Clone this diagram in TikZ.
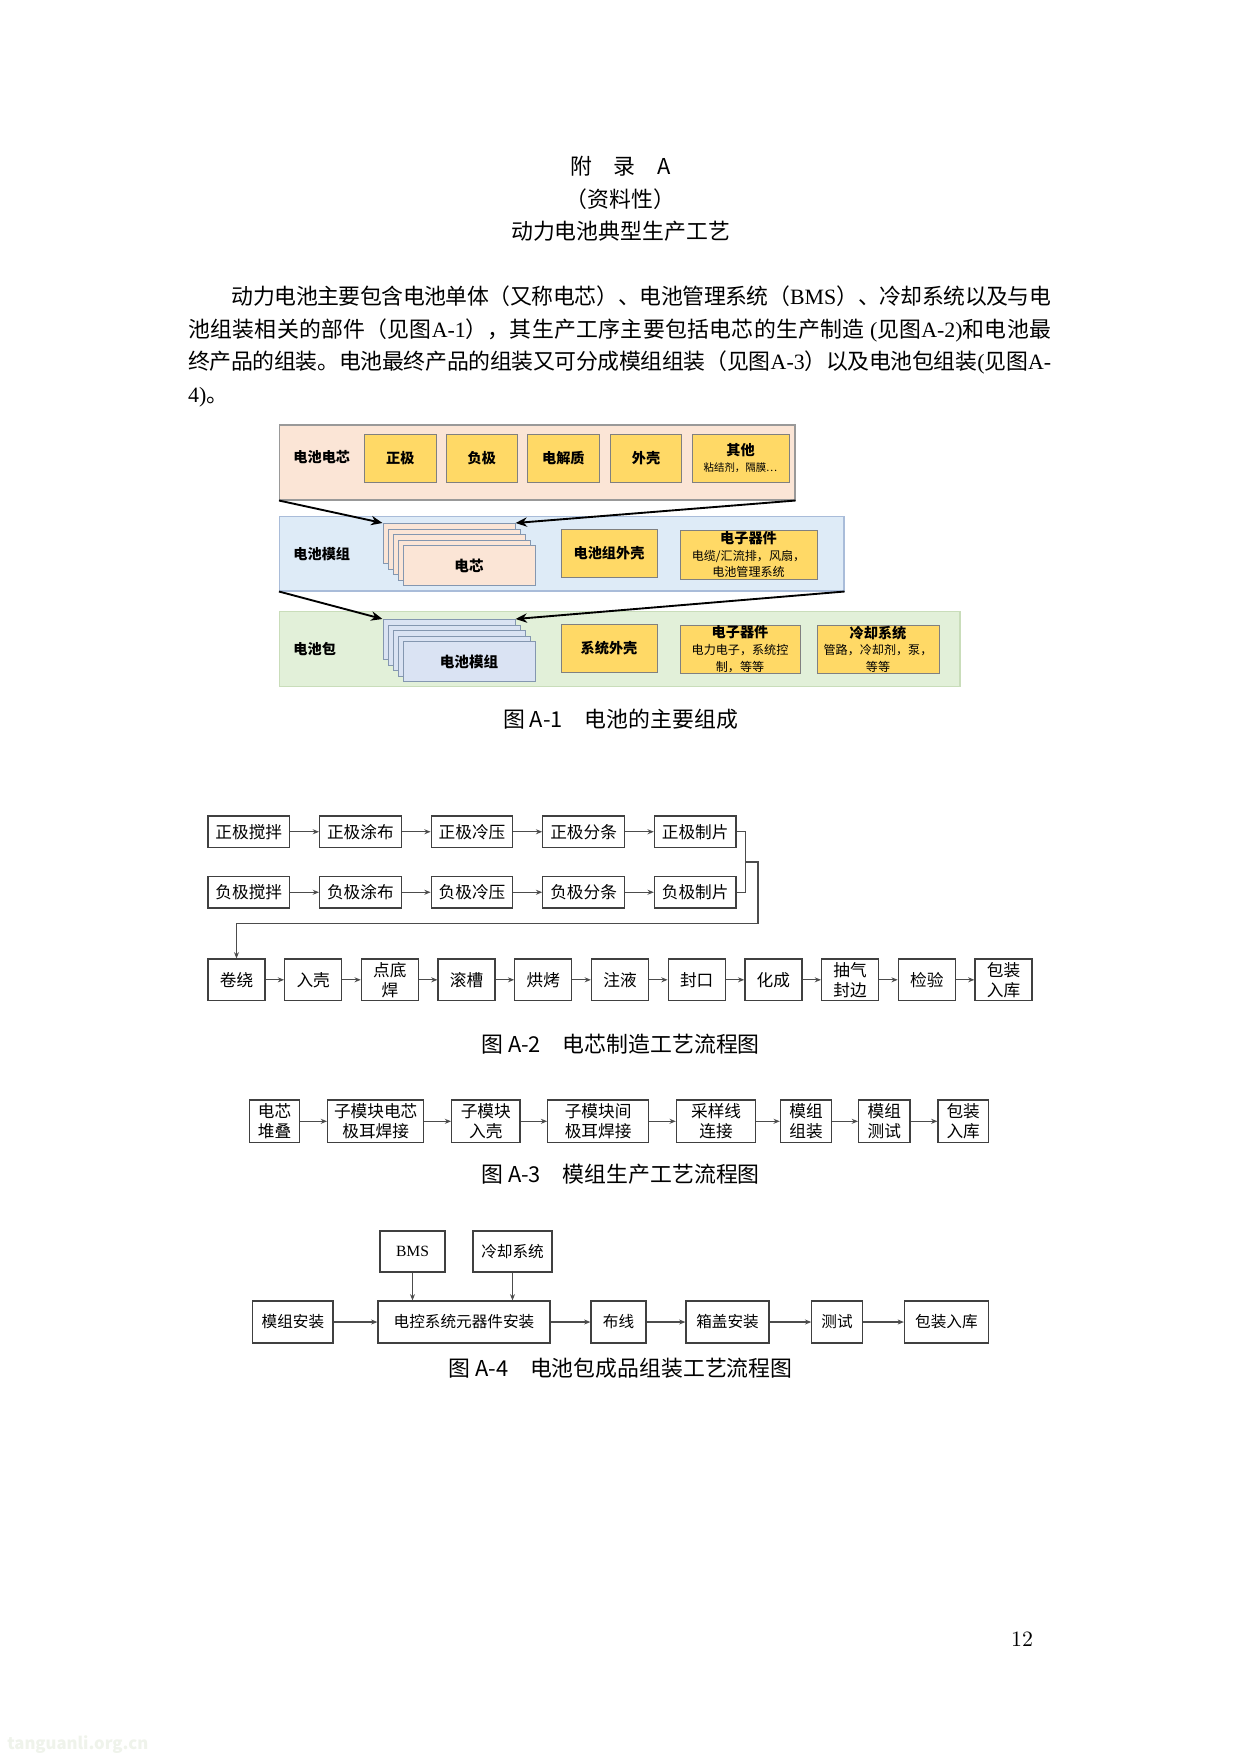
\documentclass[tikz,border=0pt]{standalone}
\usepackage{fontspec}
\usetikzlibrary{arrows.meta,fit}
\newfontfamily\cjk{Noto Sans CJK SC}
\newfontfamily\lat{Liberation Serif}
\XeTeXlinebreaklocale "zh"
\XeTeXlinebreakskip=0pt plus 1pt minus 1.5pt
\tolerance=9999
\definecolor{cellpink}{HTML}{FBE5D6}
\definecolor{modblue}{HTML}{DEEBF7}
\definecolor{modedge}{HTML}{A9BCD9}
\definecolor{cardblue}{HTML}{DAE3F3}
\definecolor{cardedge}{HTML}{8497B0}
\definecolor{packgreen}{HTML}{E2F0D9}
\definecolor{packedge}{HTML}{C9DDBA}
\definecolor{partgold}{HTML}{FFD966}
\definecolor{markgreen}{HTML}{EFF3EB}
\tikzstyle{panel}=[inner sep=0pt,line width=0.5pt]
\tikzstyle{partbox}=[draw=black!50,fill=partgold,inner sep=0pt,align=center,
                     font=\cjk\bfseries\fontsize{6.8}{8}\selectfont]
\tikzstyle{panellabel}=[anchor=west,inner sep=0pt,font=\cjk\bfseries\fontsize{6.8}{8}\selectfont]
\tikzstyle{cardbox}=[draw=cardedge,line width=0.5pt,anchor=north west,inner sep=0pt,
                     font=\cjk\bfseries\fontsize{7}{8}\selectfont]
\tikzstyle{flowbox}=[draw=black!75,line width=0.6pt,inner sep=0pt,align=center,
                     font=\cjk\fontsize{8}{9.5}\selectfont]
\tikzstyle{flowline}=[draw=black!70,line width=0.5pt]
\tikzstyle{flowarrow}=[flowline,-{Stealth[length=3pt,width=2.4pt]}]
\tikzstyle{bigarrow}=[line width=0.9pt,-{Stealth[length=5.5pt,width=4.5pt]}]
\tikzstyle{bodytext}=[font=\cjk\fontsize{10.5}{12}\selectfont]
\newcommand{\subtxt}{\mdseries\fontsize{5.8}{7}\selectfont}
\begin{document}
\begin{tikzpicture}[x=0.48pt,y=-0.48pt]
    \newcommand{\pxu}{0.48pt}
    \fill[white] (0,0) rectangle (1240,1753);
    \useasboundingbox (0,0) rectangle (1240,1753);
    % heading and text
    \node[bodytext] (apx) at (620.5,166.6) {附\hspace{1em}录\hspace{1em}A};
    \node[bodytext] (info) at (620.5,199) {（资料性）};
    \node[bodytext] (title) at (620.5,231.4) {动力电池典型生产工艺};
    \node[anchor=north west,inner sep=0pt,text width=414.2pt,align=justify,
          font=\cjk\fontsize{10.5}{15.6}\selectfont] (intro) at (187.8,285.5)
      {\hspace*{2em}动力电池主要包含电池单体（又称电芯）、电池管理系统（{\lat BMS}）、冷却系统以及与电\linebreak
       池组装相关的部件（见图{\lat A-1}），其生产工序主要包括电芯的生产制造 {\lat (}见图{\lat A-2)}和电池最\linebreak
       终产品的组装。电池最终产品的组装又可分成模组组装（见图{\lat A-3}）以及电池包组装{\lat (}见图{\lat A-}\linebreak
       {\lat 4)}。};

    % figure A-1
    \node[panel,draw=black!40,fill=cellpink,fit={(279.5,425)(795,500)}] (cellpanel) {};
    \node[panel,draw=modedge,fill=modblue,fit={(279.5,516.5)(844,591)}] (modpanel) {};
    \node[panel,draw=packedge,fill=packgreen,fit={(279.5,611.5)(960,686.5)}] (packpanel) {};
    \node[panellabel] (celllabel) at (293,457) {电池电芯};
    \node[panellabel] (modlabel) at (293,554.5) {电池模组};
    \node[panellabel] (packlabel) at (293,649) {电池包};
    \foreach \t/\cx [count=\i] in {正极/400.3,负极/481.8,电解质/563.4,外壳/646}
      \node[partbox,minimum width=71.5*\pxu,minimum height=48*\pxu] (c\i) at (\cx,458) {\t};
    \node[partbox,minimum width=97*\pxu,minimum height=48*\pxu] (c5) at (740.5,458)
      {其他\\{\mdseries\fontsize{5}{6}\selectfont 粘结剂，隔膜…}};
    \node[partbox,minimum width=96*\pxu,minimum height=48*\pxu] (m1) at (609,553) {电池组外壳};
    \node[partbox,minimum width=137*\pxu,minimum height=49*\pxu] (m2) at (748.5,554.5)
      {电子器件\\{\subtxt 电缆/汇流排，风扇，}\\{\subtxt 电池管理系统}};
    \node[partbox,minimum width=96*\pxu,minimum height=48*\pxu] (p1) at (609,648) {系统外壳};
    \node[partbox,minimum width=120*\pxu,minimum height=48*\pxu] (p2) at (740,649)
      {电子器件\\{\subtxt 电力电子，系统控}\\{\subtxt 制，等等}};
    \node[partbox,minimum width=122*\pxu,minimum height=48*\pxu] (p3) at (878,649)
      {冷却系统\\{\subtxt 管路，冷却剂，泵，}\\{\subtxt 等等}};
    % stacked cells and modules
    \foreach \k in {0,...,3} {
      \node[cardbox,fill=cellpink,minimum width=132*\pxu,minimum height=40*\pxu]
        (mc\k) at ({382.5+5*\k},{523+5.5*\k}) {};
      \node[cardbox,fill=cardblue,minimum width=132*\pxu,minimum height=40*\pxu]
        (pc\k) at ({382.5+5*\k},{619+5.5*\k}) {};
    }
    \node[cardbox,fill=cellpink,minimum width=132*\pxu,minimum height=40*\pxu]
      (mc4) at (402.5,545) {电芯};
    \node[cardbox,fill=cardblue,minimum width=132*\pxu,minimum height=40*\pxu]
      (pc4) at (402.5,641) {电池模组};
    \draw[bigarrow] (cellpanel.south west) -- (mc0.north west);
    \draw[bigarrow] (cellpanel.south east) -- (mc0.north east);
    \draw[bigarrow] (modpanel.south west) -- (pc0.north west);
    \draw[bigarrow] (modpanel.south east) -- (pc0.north east);
    \node[bodytext] (capa) at (620.5,719) {图 A-1\quad 电池的主要组成};

    % figure A-2
    \foreach \t [count=\i] in {正极搅拌,正极涂布,正极冷压,正极分条,正极制片}
      \node[flowbox,minimum width=81.6*\pxu,minimum height=31.5*\pxu]
        (pos\i) at ({248.8+111.6*(\i-1)},831.75) {\t};
    \foreach \t [count=\i] in {负极搅拌,负极涂布,负极冷压,负极分条,负极制片}
      \node[flowbox,minimum width=81.6*\pxu,minimum height=31.5*\pxu]
        (neg\i) at ({248.8+111.6*(\i-1)},892.25) {\t};
    \foreach \i [count=\j from 2] in {1,...,4} {
      \draw[flowarrow] (pos\i.east) -- (pos\j.west);
      \draw[flowarrow] (neg\i.east) -- (neg\j.west);
    }
    \coordinate (join) at (745.7,862);
    \coordinate (turn) at (758,923.5);
    \foreach \t [count=\i] in {卷绕,入壳,{点底\\焊},滚槽,烘烤,注液,封口,化成,{抽气\\封边},检验,{包装\\入库}}
      \node[flowbox,minimum width=57*\pxu,minimum height=41.6*\pxu]
        (cell\i) at ({236.5+76.7*(\i-1)},979.8) {\t};
    \foreach \i [count=\j from 2] in {1,...,10}
      \draw[flowarrow] (cell\i.east) -- (cell\j.west);
    \draw[flowline] (pos5.east) -| (join) |- (neg5.east);
    \draw[flowarrow] (join) -| (turn) -| (cell1.north);
    \node[bodytext] (capb) at (620.5,1044) {图 A-2\quad 电芯制造工艺流程图};

    % figure A-3
    \foreach \t/\cx/\w [count=\i] in {{电芯\\堆叠}/274.5/50.3,{子模块电芯\\极耳焊接}/375.7/96.1,
        {子模块\\入壳}/485.8/68.2,{子模块间\\极耳焊接}/598.1/100.6,{采样线\\连接}/716.1/79.4,
        {模组\\组装}/806.1/51.4,{模组\\测试}/884.3/51.4,{包装\\入库}/963.2/50.3}
      \node[flowbox,minimum width=\w*\pxu,minimum height=42.6*\pxu] (mod\i) at (\cx,1121.3) {\t};
    \foreach \i [count=\j from 2] in {1,...,7}
      \draw[flowarrow] (mod\i.east) -- (mod\j.west);
    \node[bodytext] (capc) at (620.5,1174) {图 A-3\quad 模组生产工艺流程图};

    % figure A-4
    \node[flowbox,font=\lat\fontsize{7.5}{9}\selectfont,minimum width=65*\pxu,minimum height=41*\pxu]
      (bms) at (412.5,1251.5) {BMS};
    \node[flowbox,font=\cjk\fontsize{7.5}{9}\selectfont,minimum width=79*\pxu,minimum height=41*\pxu]
      (cool) at (512.5,1251.5) {冷却系统};
    \foreach \t/\cx/\w [count=\i] in {模组安装/292.9/80.3,电控系统元器件安装/464/172,布线/618.5/55,
        箱盖安装/727.5/83,测试/837/50.3,包装入库/946.4/83.8}
      \node[flowbox,font=\cjk\fontsize{7.5}{9}\selectfont,minimum width=\w*\pxu,minimum height=42*\pxu]
        (pk\i) at (\cx,1322) {\t};
    \foreach \i [count=\j from 2] in {1,...,5}
      \draw[flowarrow] (pk\i.east) -- (pk\j.west);
    \draw[flowarrow] (bms.south) -- (bms.south |- pk2.north);
    \draw[flowarrow] (cool.south) -- (cool.south |- pk2.north);
    \node[bodytext] (capd) at (620.5,1368.5) {图 A-4\quad 电池包成品组装工艺流程图};

    % page number and mark
    \node[font=\fontsize{10.5}{12}\selectfont] (pagenum) at (1022,1639) {12};
    \node[anchor=west,text=markgreen,font=\cjk\bfseries\fontsize{8}{9}\selectfont] (mark) at (0,1745) {tanguanli.org.cn};
\end{tikzpicture}
\end{document}
